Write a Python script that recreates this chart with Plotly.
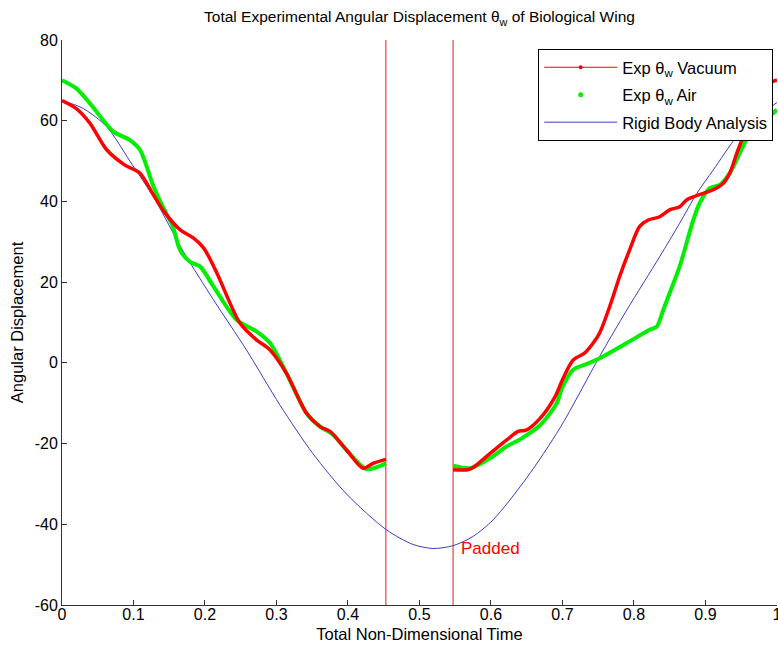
import plotly.graph_objects as go

# ---- data ----
rigid_t = [0, 0.03, 0.0625, 0.095, 0.13, 0.17, 0.212, 0.258, 0.305, 0.351, 0.398,
           0.454, 0.491, 0.519, 0.547, 0.575, 0.603, 0.65, 0.697, 0.752, 0.79,
           0.836, 0.864, 0.888, 0.911, 0.944, 0.97, 1.0]
rigid_y = [65, 63, 58.5, 50, 40.5, 27.5, 15.6, 3.2, -10.5, -22.5, -32.5,
           -41.4, -45, -46, -45.3, -43, -38.9, -28.5, -16, 1.6, 13.1,
           26.3, 34.6, 42, 47.8, 56.1, 60.5, 64.5]

vac_t1 = [0, 0.02, 0.039, 0.0625, 0.088, 0.109, 0.125, 0.141, 0.165, 0.184, 0.198,
          0.216, 0.235, 0.249, 0.272, 0.291, 0.314, 0.342, 0.361, 0.375, 0.398,
          0.421, 0.435, 0.453]
vac_y1 = [65, 63, 59.4, 52.8, 49, 47, 42.5, 37.9, 33, 30.9, 28.5,
          22.5, 14.8, 9.8, 5.7, 3.2, -2.6, -12.5, -15.8, -17, -21.6,
          -26.1, -24.9, -23.9]
vac_t2 = [0.547, 0.571, 0.599, 0.622, 0.638, 0.65, 0.669, 0.69, 0.7, 0.715, 0.731,
          0.743, 0.752, 0.766, 0.78, 0.794, 0.808, 0.82, 0.836, 0.85, 0.864,
          0.874, 0.897, 0.911, 0.925, 0.934, 0.944, 0.953, 0.97, 0.98, 0.99, 1.0]
vac_y2 = [-26.5, -26.3, -22.4, -19.1, -17, -16.6, -13.7, -8.3, -4.2, 0.7, 2.4,
          4.9, 7.4, 13.9, 21.4, 28, 33.8, 35.4, 36.2, 37.9, 38.7,
          40.4, 42, 42.9, 44.5, 47, 52, 56.1, 62, 66, 69.3, 70.1]

air_t1 = [0, 0.02, 0.039, 0.072, 0.095, 0.109, 0.128, 0.141, 0.155, 0.165, 0.179,
          0.193, 0.212, 0.244, 0.272, 0.291, 0.314, 0.342, 0.361, 0.379, 0.398,
          0.426, 0.453]
air_y1 = [70, 68, 64.3, 57.3, 55.2, 52.8, 43.7, 38.7, 33.8, 28, 25,
          23.9, 18.9, 10.7, 7.8, 4.9, -2.6, -12.5, -15.8, -17.8, -21.6,
          -26.3, -24.9]
air_t2 = [0.547, 0.571, 0.599, 0.622, 0.643, 0.669, 0.692, 0.7, 0.715, 0.738, 0.757,
          0.79, 0.822, 0.832, 0.841, 0.85, 0.864, 0.883, 0.892, 0.906, 0.92,
          0.934, 0.948, 0.96, 0.98, 0.995, 1.0]
air_y2 = [-25.5, -26.1, -23.6, -20.7, -18.7, -15.4, -10, -6, -1.7, 0, 1.6,
          4.9, 8.2, 9, 13.1, 17.3, 23.9, 35.4, 39.6, 43.3, 44.1,
          47, 52, 56.1, 59.5, 61.9, 62.7]

pad_bounds = [0.453, 0.547]
pad_label = "Padded"
pad_label_pos = (0.555, -46)

x_ticks = [0, 0.1, 0.2, 0.3, 0.4, 0.5, 0.6, 0.7, 0.8, 0.9, 1]
x_tick_labels = ["0", "0.1", "0.2", "0.3", "0.4", "0.5", "0.6", "0.7", "0.8", "0.9", "1"]
y_ticks = [-60, -40, -20, 0, 20, 40, 60, 80]
y_tick_labels = ["-60", "-40", "-20", "0", "20", "40", "60", "80"]

RED = "#ff0000"
GREEN = "#00ee00"
BLUE = "#3c3cd0"
FONT = "Arial, Liberation Sans, sans-serif"

fig = go.Figure()

# padded region boundaries
for b in pad_bounds:
    fig.add_trace(go.Scatter(x=[b, b], y=[y_ticks[0], y_ticks[-1]], mode="lines",
                             line=dict(color="#e02020", width=1), showlegend=False,
                             hoverinfo="skip"))

# rigid body
fig.add_trace(go.Scatter(x=rigid_t, y=rigid_y, mode="lines",
                         line=dict(color=BLUE, width=1, shape="spline", smoothing=0.8),
                         showlegend=False))

# air (green dots)
for t, y in [(air_t1, air_y1), (air_t2, air_y2)]:
    fig.add_trace(go.Scatter(x=t, y=y, mode="lines",
                             line=dict(color=GREEN, width=4, shape="spline", smoothing=0.8),
                             showlegend=False))

# vacuum (red)
for t, y in [(vac_t1, vac_y1), (vac_t2, vac_y2)]:
    fig.add_trace(go.Scatter(x=t, y=y, mode="lines",
                             line=dict(color=RED, width=3.5, shape="spline", smoothing=0.8),
                             showlegend=False))

# legend entries
fig.add_trace(go.Scatter(x=[None], y=[None], mode="lines+markers",
                         name="Exp θ<sub>w</sub> Vacuum", legendgroup="a",
                         line=dict(color=RED, width=1), marker=dict(color=RED, size=4)))
fig.add_trace(go.Scatter(x=[None], y=[None], mode="markers",
                         name="Exp θ<sub>w</sub> Air", legendgroup="b",
                         marker=dict(color=GREEN, size=5)))
fig.add_trace(go.Scatter(x=[None], y=[None], mode="lines",
                         name="Rigid Body Analysis", legendgroup="c",
                         line=dict(color=BLUE, width=1)))

fig.add_annotation(x=pad_label_pos[0], y=pad_label_pos[1], text=pad_label,
                   showarrow=False, xanchor="left", yanchor="middle",
                   font=dict(color=RED, size=17, family=FONT))

fig.update_layout(
    width=778, height=652,
    margin=dict(l=62, r=1, t=40, b=47, autoexpand=False),
    paper_bgcolor="white", plot_bgcolor="white",
    font=dict(family=FONT, size=16, color="black"),
    title=dict(text="Total Experimental Angular Displacement θ<sub>w</sub> of Biological Wing",
               x=0.5, xref="paper", y=1 - 17 / 652, yref="container",
               xanchor="center", yanchor="middle",
               font=dict(size=15.5, family=FONT, color="black")),
    legend=dict(x=0.666, y=0.984, xanchor="left", yanchor="top",
                bgcolor="white", bordercolor="black", borderwidth=1,
                font=dict(size=16.5, family=FONT), itemwidth=73,
                traceorder="grouped", tracegroupgap=3),
    showlegend=True,
)

fig.update_xaxes(range=[0, 1.0001], tickvals=x_ticks, ticktext=x_tick_labels,
                 ticks="inside", ticklen=5, tickcolor="#333",
                 showline=True, linecolor="#333", linewidth=1, mirror=False,
                 showgrid=False, zeroline=False, automargin=False,
                 ticklabelstandoff=-5, ticklabeloverflow="allow",
                 title=dict(text="Total Non-Dimensional Time", standoff=6,
                            font=dict(size=16.5)),
                 tickfont=dict(size=16))
fig.update_yaxes(range=[-60, 80], tickvals=y_ticks, ticktext=y_tick_labels,
                 ticks="inside", ticklen=5, tickcolor="#333",
                 showline=True, linecolor="#333", linewidth=1, mirror=False,
                 showgrid=False, zeroline=False, automargin=False,
                 title=dict(text="Angular Displacement", standoff=6,
                            font=dict(size=16.5)),
                 tickfont=dict(size=16))

fig.write_html("out.html",
               config={"displayModeBar": False},
               post_script="document.body.style.margin='0px';"
                           "document.body.style.overflow='hidden';")
